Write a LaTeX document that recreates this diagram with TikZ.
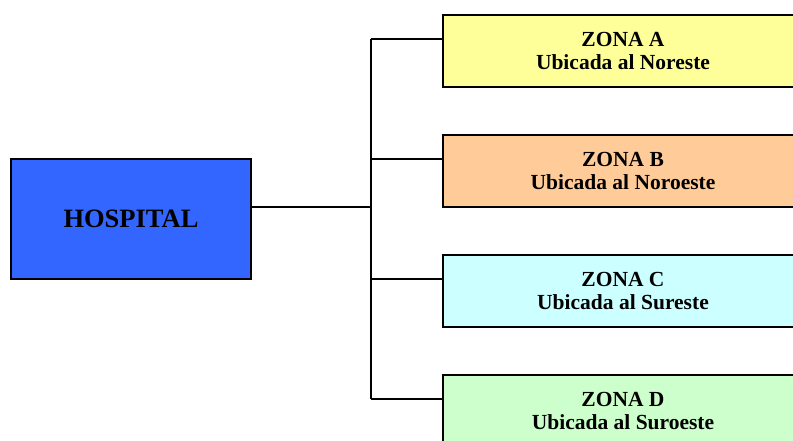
\documentclass[tikz,border=0pt]{standalone}
\usepackage{fontspec}
\setmainfont{Liberation Serif}
\usetikzlibrary{calc}

\definecolor{hospblue}{HTML}{3366FF}
\definecolor{zonayellow}{HTML}{FFFF99}
\definecolor{zonaorange}{HTML}{FFCC99}
\definecolor{zonacyan}{HTML}{CCFFFF}
\definecolor{zonagreen}{HTML}{CCFFCC}

\tikzset{
  box/.style={draw=black, line width=1.6pt, inner sep=0pt, align=center},
  hospbox/.style={box, fill=hospblue, minimum width=240pt, minimum height=120pt,
    font=\fontsize{26.5}{29}\selectfont\bfseries},
  zonebox/.style={box, minimum width=360pt, minimum height=72pt,
    font=\fontsize{21.5}{23}\selectfont\bfseries},
  link/.style={draw=black, line width=1.8pt}
}

\begin{document}
\begin{tikzpicture}[x=1pt, y=-1pt]
  \useasboundingbox (0,0) rectangle (793,441);
  \clip (0,0) rectangle (793,441);

  % main box
  \node[hospbox] (hosp) at (131,219) {HOSPITAL};

  % zone boxes
  \node[zonebox, fill=zonayellow] (za) at (623,51)  {ZONA A\\Ubicada al Noreste};
  \node[zonebox, fill=zonaorange] (zb) at (623,171) {ZONA B\\Ubicada al Noroeste};
  \node[zonebox, fill=zonacyan]   (zc) at (623,291) {ZONA C\\Ubicada al Sureste};
  \node[zonebox, fill=zonagreen]  (zd) at (623,411) {ZONA D\\Ubicada al Suroeste};

  % connection points on the boxes
  \coordinate (hout) at ($(hosp.north east)!0.4!(hosp.south east)$);
  \coordinate (pa) at ($(za.north west)!0.333!(za.south west)$);
  \coordinate (pb) at ($(zb.north west)!0.333!(zb.south west)$);
  \coordinate (pc) at ($(zc.north west)!0.333!(zc.south west)$);
  \coordinate (pd) at ($(zd.north west)!0.333!(zd.south west)$);
  \coordinate (j) at (371,0);

  % tree connectors
  \draw[link] (hout) -- (j |- hout);
  \draw[link] (j |- pa) -- (j |- pd);
  \draw[link] (j |- pa) -- (pa);
  \draw[link] (j |- pb) -- (pb);
  \draw[link] (j |- pc) -- (pc);
  \draw[link] (j |- pd) -- (pd);
\end{tikzpicture}
\end{document}
